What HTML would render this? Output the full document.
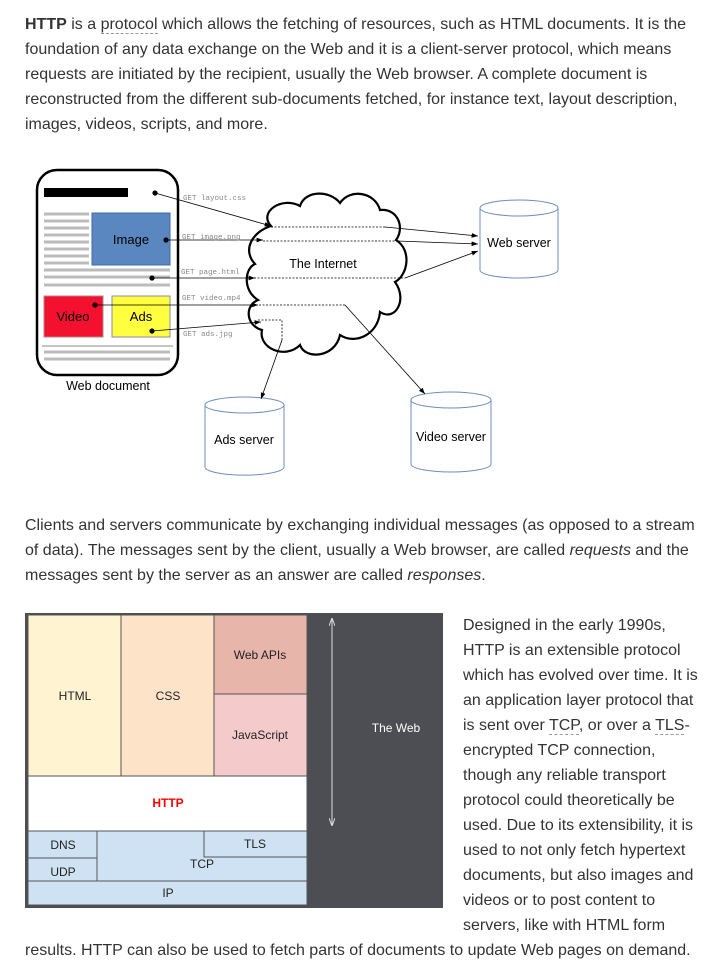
<!DOCTYPE html>
<html><head><meta charset="utf-8"><style>
body{margin:0;width:708px;height:977px;background:#fff;position:relative;overflow:hidden;font-family:"Liberation Sans",Arial,sans-serif;color:#333;}
.l{position:absolute;left:25px;font-size:16px;line-height:20px;white-space:nowrap;}
.r{left:463px;}
.u{border-bottom:1px dashed #999;}
svg{position:absolute;left:0;top:0;}
</style></head><body>
<div class="l" style="top:15px"><b>HTTP</b> is a <span class="u">protocol</span> which allows the fetching of resources, such as HTML documents. It is the</div>
<div class="l" style="top:40px">foundation of any data exchange on the Web and it is a client-server protocol, which means</div>
<div class="l" style="top:65px">requests are initiated by the recipient, usually the Web browser. A complete document is</div>
<div class="l" style="top:90px">reconstructed from the different sub-documents fetched, for instance text, layout description,</div>
<div class="l" style="top:115px">images, videos, scripts, and more.</div>

<div class="l" style="top:516px">Clients and servers communicate by exchanging individual messages (as opposed to a stream</div>
<div class="l" style="top:541px">of data). The messages sent by the client, usually a Web browser, are called <i>requests</i> and the</div>
<div class="l" style="top:566px">messages sent by the server as an answer are called <i>responses</i>.</div>

<div class="l r" style="top:616px">Designed in the early 1990s,</div>
<div class="l r" style="top:641px">HTTP is an extensible protocol</div>
<div class="l r" style="top:666px">which has evolved over time. It is</div>
<div class="l r" style="top:691px">an application layer protocol that</div>
<div class="l r" style="top:716px">is sent over <span class="u">TCP</span>, or over a <span class="u">TLS</span>-</div>
<div class="l r" style="top:741px">encrypted TCP connection,</div>
<div class="l r" style="top:766px">though any reliable transport</div>
<div class="l r" style="top:791px">protocol could theoretically be</div>
<div class="l r" style="top:816px">used. Due to its extensibility, it is</div>
<div class="l r" style="top:841px">used to not only fetch hypertext</div>
<div class="l r" style="top:866px">documents, but also images and</div>
<div class="l r" style="top:891px">videos or to post content to</div>
<div class="l r" style="top:916px">servers, like with HTML form</div>
<div class="l" style="top:941px">results. HTTP can also be used to fetch parts of documents to update Web pages on demand.</div>

<svg width="708" height="977" viewBox="0 0 708 977" font-family="Liberation Sans, Arial, sans-serif">
<defs><marker id="a" markerWidth="8" markerHeight="6" refX="8" refY="3" orient="auto"><path d="M0,0 L8,3 L0,6 z" fill="#000"/></marker>
<marker id="w" markerWidth="8" markerHeight="6" refX="7" refY="3" orient="auto-start-reverse"><path d="M0,0 L8,3 L0,6" fill="none" stroke="#ddd" stroke-width="1"/></marker></defs>
<!-- web document -->
<rect x="37" y="170" width="141" height="205" rx="20" fill="#fff" stroke="#000" stroke-width="2.5"/>
<rect x="44" y="188" width="84" height="9" fill="#000"/>
<g stroke="#bbb" stroke-width="3">
<line x1="44" y1="214" x2="89" y2="214"/><line x1="44" y1="221" x2="89" y2="221"/><line x1="44" y1="228" x2="89" y2="228"/><line x1="44" y1="235" x2="89" y2="235"/><line x1="44" y1="242" x2="89" y2="242"/><line x1="44" y1="249" x2="89" y2="249"/><line x1="44" y1="256" x2="89" y2="256"/><line x1="44" y1="263" x2="89" y2="263"/>
<line x1="44" y1="270" x2="170" y2="270"/><line x1="44" y1="277" x2="170" y2="277"/><line x1="44" y1="285" x2="170" y2="285"/>
<line x1="44" y1="352" x2="170" y2="352"/><line x1="44" y1="359" x2="170" y2="359"/>
</g>
<line x1="42" y1="346" x2="173" y2="346" stroke="#888" stroke-width="1"/>
<rect x="92" y="213" width="78" height="52" fill="#5b87c0" stroke="#3d6aa8"/>
<text x="131" y="244" font-size="13" text-anchor="middle">Image</text>
<rect x="44" y="296" width="59" height="41" fill="#f4102f" stroke="#a88"/>
<text x="73" y="321" font-size="13" text-anchor="middle">Video</text>
<rect x="112" y="296" width="58" height="41" fill="#ffff40" stroke="#88a"/>
<text x="141" y="321" font-size="13" text-anchor="middle">Ads</text>
<text x="108" y="390" font-size="12.5" text-anchor="middle">Web document</text>
<!-- cloud -->
<path d="M271,226 C258,212 282,196 300,206 C305,190 330,190 340,203 C350,188 375,192 380,210 C398,208 405,228 396,240 C412,250 408,275 395,282 C408,300 395,322 380,312 C378,335 355,345 340,335 C335,358 305,360 300,345 C285,360 258,348 262,330 C245,325 245,305 258,300 C242,290 245,268 255,264 C242,250 252,232 271,226 Z" fill="#fff" stroke="#000" stroke-width="2.2"/>
<text x="323" y="268" font-size="12.5" text-anchor="middle">The Internet</text>
<!-- cylinders -->
<g fill="#fff" stroke="#6c8ebf" stroke-width="1">
<path d="M480,208 v62 a39,8 0 0 0 78,0 v-62"/><ellipse cx="519" cy="208" rx="39" ry="8"/>
<path d="M411,400 v64 a40,8 0 0 0 80,0 v-64"/><ellipse cx="451" cy="400" rx="40" ry="8"/>
<path d="M205,405 v62 a39,8 0 0 0 79,0 v-62"/><ellipse cx="244.5" cy="405" rx="39.5" ry="8"/>
</g>
<text x="519" y="247" font-size="12.5" text-anchor="middle">Web server</text>
<text x="451" y="441" font-size="12.5" text-anchor="middle">Video server</text>
<text x="244" y="444" font-size="12.5" text-anchor="middle">Ads server</text>
<!-- arrows -->
<g stroke="#000" stroke-width="0.8" fill="none">
<line x1="155" y1="193" x2="271" y2="226" marker-end="url(#a)"/>
<line x1="166" y1="240" x2="263" y2="240" marker-end="url(#a)"/>
<line x1="152" y1="278" x2="255" y2="278" marker-end="url(#a)"/>
<line x1="95" y1="305" x2="258" y2="305" marker-end="url(#a)"/>
<line x1="152" y1="331" x2="261" y2="322" marker-end="url(#a)"/>
<g stroke-dasharray="2,1.5"><polyline points="271,227 385,227"/><polyline points="263,241 397,241"/><polyline points="247,278 405,278"/><polyline points="252,305 345,305"/><polyline points="258,320 282,320 282,340"/></g>
<line x1="385" y1="227" x2="478" y2="236" marker-end="url(#a)"/>
<line x1="397" y1="241" x2="478" y2="244" marker-end="url(#a)"/>
<line x1="405" y1="278" x2="478" y2="251" marker-end="url(#a)"/>
<line x1="345" y1="305" x2="425" y2="394" marker-end="url(#a)"/>
<line x1="282" y1="340" x2="261" y2="399" marker-end="url(#a)"/>
</g>
<g fill="#000"><circle cx="155" cy="193" r="2.6"/><circle cx="166" cy="240" r="2.6"/><circle cx="152" cy="278" r="2.6"/><circle cx="95" cy="305" r="2.6"/><circle cx="152" cy="331" r="2.6"/></g>
<g font-family="Liberation Mono, monospace" font-size="7.5" fill="#888">
<text x="183" y="200">GET layout.css</text><text x="182" y="239">GET image.png</text><text x="181" y="274">GET page.html</text><text x="182" y="300">GET video.mp4</text><text x="183" y="336">GET ads.jpg</text>
</g>
<!-- layers -->
<rect x="25" y="613" width="418" height="295" fill="#4d4e53"/>
<g stroke="#555" stroke-width="1">
<rect x="28" y="615" width="93" height="161" fill="#fff3d1"/>
<rect x="121" y="615" width="93" height="161" fill="#fde3c8"/>
<rect x="214" y="615" width="93" height="79" fill="#e8b5aa"/>
<rect x="214" y="694" width="93" height="82" fill="#f4caca"/>
<rect x="28" y="776" width="279" height="55" fill="#fff"/>
<rect x="28" y="831" width="279" height="50" fill="#cfe2f3"/>
<rect x="28" y="831" width="69" height="27" fill="#cfe2f3"/>
<rect x="28" y="858" width="69" height="23" fill="#cfe2f3"/>
<polyline points="204,831 204,857 307,857" fill="none"/>
<rect x="28" y="881" width="279" height="24" fill="#cfe2f3"/>
</g>
<g font-size="12" text-anchor="middle" fill="#222">
<text x="75" y="700">HTML</text><text x="168" y="700">CSS</text><text x="260" y="659">Web APIs</text><text x="260" y="739">JavaScript</text>
<text x="168" y="807" fill="#f00" font-weight="bold">HTTP</text>
<text x="63" y="849">DNS</text><text x="63" y="876">UDP</text><text x="255" y="848">TLS</text><text x="202" y="868">TCP</text><text x="168" y="897">IP</text>
<text x="396" y="732" fill="#fff">The Web</text>
</g>
<line x1="332" y1="619" x2="332" y2="825" stroke="#ddd" stroke-width="1" marker-start="url(#w)" marker-end="url(#w)"/>
</svg>
</body></html>
